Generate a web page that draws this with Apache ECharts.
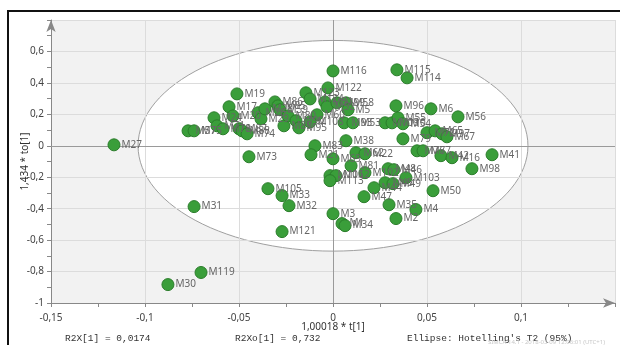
<!DOCTYPE html>
<html>
<head>
<meta charset="utf-8">
<script src="https://cdn.jsdelivr.net/npm/echarts@6/dist/echarts.min.js"></script>
<style>
  html, body { margin: 0; padding: 0; background: #fff; }
  #chart { width: 620px; height: 345px; }
</style>
</head>
<body>
<div id="chart"></div>
<script>
// OPLS scores: names, predictive score t[1], orthogonal score to[1]
const names = [
  "M27", "M31", "M119", "M30", "M105", "M33", "M32", "M121", "M73", "M19",
  "M17", "M24", "M57", "M75", "M71", "M78", "M87", "M88", "M74", "M20",
  "M26", "M29", "M28", "M86", "M85", "M59", "M89", "M80", "M90", "M95",
  "M123", "M124", "M60", "M108", "M122", "M116", "M51", "M52", "M99", "M58",
  "M5", "M93", "M53", "M109", "M110", "M55", "M54", "M96", "M6", "M56",
  "M115", "M114", "M72", "M65", "M97", "M67", "M79", "M38", "M83", "M21",
  "M69", "M62", "M22", "M76", "M77", "M42", "M16", "M41", "M98", "M81",
  "M102", "M48", "M46", "M103", "M45", "M49", "M44", "M47", "M50", "M35",
  "M4", "M2", "M3", "M1", "M34", "M106", "M112", "M113"
];
const tScores = [
  -0.1165, -0.0739, -0.0702, -0.0878, -0.0346, -0.0271, -0.0234, -0.0271, -0.0447, -0.0511,
  -0.0553, -0.0633, -0.0771, -0.0739, -0.0617, -0.0585, -0.0500, -0.0484, -0.0457, -0.0532,
  -0.0399, -0.0383, -0.0362, -0.0309, -0.0293, -0.0282, -0.0261, -0.0239, -0.0197, -0.0181,
  -0.0144, -0.0122, -0.0085, -0.0122, -0.0027, 0.0000, -0.0043, -0.0032, 0.0021, 0.0069,
  0.0080, 0.0059, 0.0106, 0.0277, 0.0314, 0.0346, 0.0372, 0.0335, 0.0521, 0.0665,
  0.0340, 0.0394, 0.0500, 0.0543, 0.0580, 0.0606, 0.0372, 0.0069, -0.0096, -0.0117,
  0.0000, 0.0122, 0.0170, 0.0447, 0.0479, 0.0574, 0.0633, 0.0846, 0.0739, 0.0096,
  0.0170, 0.0293, 0.0324, 0.0388, 0.0277, 0.0319, 0.0218, 0.0165, 0.0532, 0.0298,
  0.0441, 0.0335, 0.0000, 0.0048, 0.0064, -0.0016, 0.0016, -0.0016
];
const toScores = [
  0.006, -0.387, -0.806, -0.883, -0.273, -0.317, -0.381, -0.546, -0.070, 0.330,
  0.248, 0.178, 0.095, 0.095, 0.127, 0.108, 0.108, 0.095, 0.076, 0.190,
  0.210, 0.171, 0.235, 0.279, 0.254, 0.229, 0.127, 0.190, 0.159, 0.114,
  0.337, 0.298, 0.197, 0.152, 0.368, 0.476, 0.279, 0.248, 0.273, 0.273,
  0.229, 0.146, 0.146, 0.146, 0.146, 0.178, 0.140, 0.254, 0.235, 0.184,
  0.483, 0.432, 0.083, 0.095, 0.076, 0.057, 0.044, 0.032, 0.000, -0.057,
  -0.083, -0.044, -0.051, -0.032, -0.032, -0.063, -0.076, -0.057, -0.146, -0.127,
  -0.171, -0.146, -0.152, -0.203, -0.235, -0.241, -0.267, -0.324, -0.286, -0.375,
  -0.406, -0.463, -0.432, -0.495, -0.508, -0.190, -0.190, -0.222
];

// Hotelling's T2 (95%) ellipse semi-axes, in score units
const ellipseT = 0.1037;
const ellipseTo = 0.670;

const xTicks = { min: -0.15, max: 0.15, interval: 0.05 };
const yTicks = { min: -1, max: 0.8, interval: 0.2 };

const chart = echarts.init(document.getElementById("chart"));

const fmt = (v) => {
  const r = Math.round(v * 1000) / 1000;
  return String(r).replace(".", ",");
};

const points = names.map((n, i) => ({ name: n, value: [tScores[i], toScores[i]] }));

const fontFamily = "'Noto Sans', 'Open Sans', sans-serif";
const mono = "'Liberation Mono', 'DejaVu Sans Mono', monospace";

const option = {
  animation: false,
  backgroundColor: "#ffffff",
  grid: {
    left: 51,
    right: 5,
    top: 20,
    bottom: 42,
    show: true,
    backgroundColor: "#f2f2f2",
    borderWidth: 0,
  },
  xAxis: {
    type: "value",
    min: xTicks.min,
    max: xTicks.max,
    interval: xTicks.interval,
    z: 3,
    name: "1,00018 * t[1]",
    nameLocation: "middle",
    nameGap: 19,
    nameMoveOverlap: false,
    nameTextStyle: { color: "#333", fontSize: 10, fontFamily },
    axisLine: {
      onZero: false,
      symbol: ["none", "arrow"],
      symbolSize: [7, 12],
      lineStyle: { color: "#888", width: 1 },
    },
    axisTick: { show: true, length: 4, lineStyle: { color: "#888" } },
    minorTick: { show: true, splitNumber: 2, length: 4, lineStyle: { color: "#888" } },
    axisLabel: {
      color: "#444",
      fontSize: 10,
      fontFamily,
      margin: 10,
      showMaxLabel: false,
      formatter: fmt,
    },
    splitLine: { show: true, lineStyle: { color: "#dcdcdc", width: 1 } },
  },
  yAxis: {
    type: "value",
    min: yTicks.min,
    max: yTicks.max,
    interval: yTicks.interval,
    z: 3,
    name: "1,434 * to[1]",
    nameLocation: "middle",
    nameGap: 21,
    nameMoveOverlap: false,
    nameTextStyle: { color: "#333", fontSize: 10, fontFamily },
    axisLine: {
      onZero: false,
      symbol: ["none", "arrow"],
      symbolSize: [7, 12],
      lineStyle: { color: "#888", width: 1 },
    },
    axisTick: { show: true, length: 4, lineStyle: { color: "#888" } },
    minorTick: { show: true, splitNumber: 2, length: 4, lineStyle: { color: "#888" } },
    axisLabel: {
      color: "#444",
      fontSize: 10,
      fontFamily,
      margin: 7,
      showMaxLabel: false,
      formatter: fmt,
    },
    splitLine: { show: true, lineStyle: { color: "#dcdcdc", width: 1 } },
  },
  series: [
    {
      // T2 ellipse, white inside
      type: "custom",
      z: 1,
      silent: true,
      data: [[0, 0]],
      renderItem: (params, api) => {
        const pts = [];
        for (let k = 0; k <= 120; k++) {
          const a = (k / 120) * Math.PI * 2;
          pts.push(api.coord([ellipseT * Math.cos(a), ellipseTo * Math.sin(a)]));
        }
        return {
          type: "polygon",
          shape: { points: pts },
          style: { fill: "#ffffff", stroke: "#a0a0a0", lineWidth: 1 },
        };
      },
    },
    {
      // zero lines
      type: "line",
      z: 4,
      data: [],
      markLine: {
        silent: true,
        symbol: ["none", "none"],
        label: { show: false },
        lineStyle: { color: "#9a9a9a", type: "solid", width: 1 },
        data: [{ xAxis: 0 }, { yAxis: 0 }],
      },
    },
    {
      type: "scatter",
      z: 5,
      data: points,
      symbolSize: 12,
      itemStyle: {
        color: "#3a9e3a",
        borderColor: "#2b7d2b",
        borderWidth: 1,
        opacity: 1,
      },
      label: {
        show: true,
        position: "right",
        distance: 1,
        formatter: "{b}",
        color: "#666",
        fontSize: 10,
        fontFamily,
      },
    },
  ],
  graphic: [
    {
      type: "rect",
      shape: { x: 8, y: 11, width: 640, height: 360 },
      style: { fill: "none", stroke: "#111", lineWidth: 2 },
      silent: true,
      z: 10,
    },
    {
      type: "text",
      left: 65,
      top: 333,
      style: { text: "R2X[1] = 0,0174", fill: "#333", font: "9.5px " + mono },
    },
    {
      type: "text",
      left: 235,
      top: 333,
      style: { text: "R2Xo[1] = 0,732", fill: "#333", font: "9.5px " + mono },
    },
    {
      type: "text",
      left: 407,
      top: 333,
      style: { text: "Ellipse: Hotelling's T2 (95%)", fill: "#333", font: "9.5px " + mono },
    },
    {
      type: "text",
      left: 488,
      top: 339,
      style: { text: "SIMCA 14.1 - 2018-03-09 12:06:01 (UTC+1)", fill: "#c8c8c8", font: "6px " + fontFamily },
    },
  ],
};

chart.setOption(option);
</script>
</body>
</html>
